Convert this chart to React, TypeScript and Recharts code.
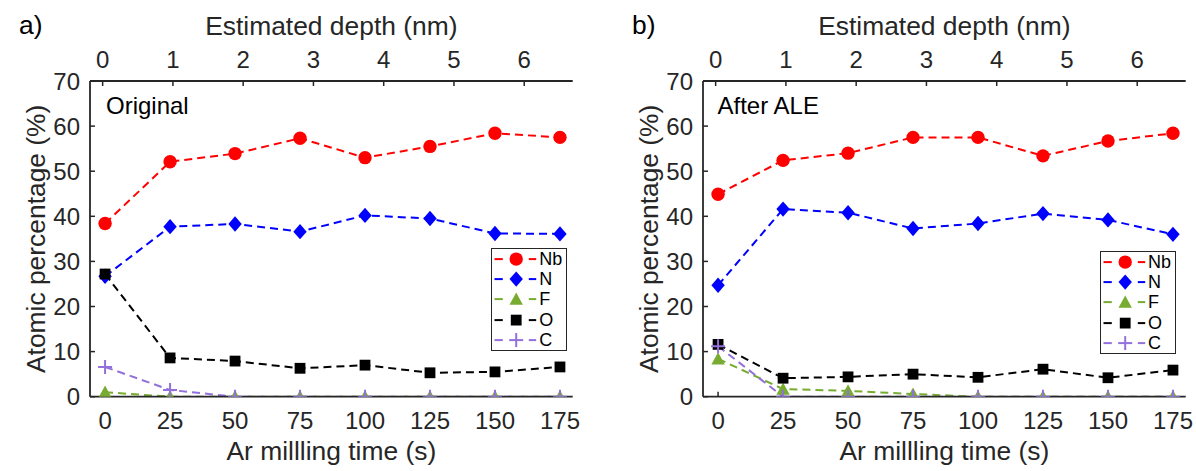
import React from 'react';
import { LineChart, Line, XAxis, YAxis, Legend, Label } from 'recharts';

// ---------- data ----------
const times = [0, 25, 50, 75, 100, 125, 150, 175];
const depthTicks = [0, 1, 2, 3, 4, 5, 6];
const yTicks = [0, 10, 20, 30, 40, 50, 60, 70];
const seriesNames = ['Nb', 'N', 'F', 'O', 'C'];
const secondsPerNm = 27;

const origNb = [38.4, 52.1, 53.9, 57.3, 53.0, 55.5, 58.4, 57.5];
const origN = [26.7, 37.7, 38.3, 36.6, 40.2, 39.5, 36.2, 36.1];
const origF = [1.0, 0, 0, 0, 0, 0, 0, 0];
const origO = [27.2, 8.6, 7.9, 6.3, 7.0, 5.3, 5.5, 6.6];
const origC = [6.6, 1.5, 0, 0, 0, 0, 0, 0];

const aleNb = [44.9, 52.4, 54.0, 57.5, 57.5, 53.4, 56.7, 58.4];
const aleN = [24.7, 41.6, 40.8, 37.3, 38.4, 40.6, 39.2, 36.0];
const aleF = [8.4, 1.7, 1.3, 0.6, 0, 0, 0, 0];
const aleO = [11.6, 4.1, 4.4, 5.0, 4.3, 6.1, 4.2, 5.9];
const aleC = [11.2, 0, 0, 0, 0, 0, 0, 0];

// ---------- styles ----------
const FONT = '"Liberation Sans", Arial, Helvetica, sans-serif';
const AX = '#262626';
const colors: Record<string, string> = { Nb: '#FF0000', N: '#0000FF', F: '#77AC30', O: '#000000', C: '#9370DB' };
const shapes: Record<string, string> = { Nb: 'circle', N: 'diamond', F: 'triangle', O: 'square', C: 'plus' };
const ROW = 20.2;

function Marker({ shape, cx, cy, color }: { shape: string; cx: number; cy: number; color: string }) {
  if (cx == null || cy == null || isNaN(cx) || isNaN(cy)) return null;
  switch (shape) {
    case 'circle':
      return <circle cx={cx} cy={cy} r={6.7} fill={color} />;
    case 'diamond':
      return <polygon points={`${cx},${cy - 7.7} ${cx + 6.7},${cy} ${cx},${cy + 7.7} ${cx - 6.7},${cy}`} fill={color} />;
    case 'triangle':
      return <polygon points={`${cx},${cy - 6.6} ${cx + 6.7},${cy + 5.6} ${cx - 6.7},${cy + 5.6}`} fill={color} />;
    case 'square':
      return <rect x={cx - 5.4} y={cy - 5.4} width={10.8} height={10.8} fill={color} />;
    case 'plus':
      return (
        <g stroke={color} strokeWidth={2}>
          <line x1={cx - 7} y1={cy} x2={cx + 7} y2={cy} />
          <line x1={cx} y1={cy - 7} x2={cx} y2={cy + 7} />
        </g>
      );
    default:
      return null;
  }
}

const renderLegend = (props: any) => {
  const payload = [...(props.payload || [])].sort(
    (a: any, b: any) =>
      seriesNames.indexOf(String(a.dataKey ?? a.value)) - seriesNames.indexOf(String(b.dataKey ?? b.value))
  );
  return (
    <div
      style={{
        border: `1.8px solid ${AX}`,
        background: '#fff',
        width: 76.6,
        boxSizing: 'border-box',
        fontFamily: FONT,
      }}
    >
      {payload.map((entry: any) => {
        const key = String(entry.dataKey ?? entry.value);
        const c = colors[key];
        const mid = ROW / 2;
        return (
          <div key={key} style={{ display: 'flex', alignItems: 'center', height: ROW }}>
            <svg width={46} height={ROW} style={{ display: 'block', flex: 'none' }}>
              <line x1={2.5} y1={mid} x2={10.8} y2={mid} stroke={c} strokeWidth={2} />
              <line x1={36.8} y1={mid} x2={44.2} y2={mid} stroke={c} strokeWidth={2} />
              <Marker shape={shapes[key]} cx={24.2} cy={mid} color={c} />
            </svg>
            <div
              style={{
                marginLeft: 1.5,
                fontSize: 18,
                lineHeight: `${ROW}px`,
                height: ROW,
                color: '#000',
              }}
            >
              {entry.value}
            </div>
          </div>
        );
      })}
    </div>
  );
};

function Panel({
  left,
  letter,
  note,
  noteX,
  values,
  legendLeft,
  legendTop,
}: {
  left: number;
  letter: string;
  note: string;
  noteX: number;
  values: Record<string, number[]>;
  legendLeft: number;
  legendTop: number;
}) {
  const rows = times.map((t, i) => {
    const r: Record<string, number> = { t, d: t / secondsPerNm };
    seriesNames.forEach((s) => {
      r[s] = values[s][i];
    });
    return r;
  });
  const W = 583;
  const H = 471;
  return (
    <div style={{ position: 'absolute', left, top: 0, width: W, height: H }}>
      <LineChart width={W} height={H} data={rows} margin={{ top: 31, right: 10.3, bottom: 24.3, left: 30 }}>
        <XAxis
          xAxisId="top"
          orientation="top"
          type="number"
          dataKey="d"
          domain={[-0.18, 6.69]}
          allowDataOverflow
          ticks={depthTicks}
          interval={0}
          height={50}
          tickSize={-5}
          tickMargin={18}
          axisLine={{ stroke: AX, strokeWidth: 1.8 }}
          tickLine={{ stroke: AX, strokeWidth: 1.5 }}
          tick={{ fill: AX, fontSize: 24, fontFamily: FONT }}
        >
          <Label
            content={(p: any) => {
              const vb = p.viewBox || {};
              return (
                <text x={vb.x + vb.width / 2} y={35} textAnchor="middle" fontSize={26.4} fill={AX} fontFamily={FONT}>
                  Estimated depth (nm)
                </text>
              );
            }}
          />
        </XAxis>
        <XAxis
          type="number"
          dataKey="t"
          domain={[-5.8, 179.9]}
          allowDataOverflow
          ticks={times}
          interval={0}
          height={50}
          tickSize={-5}
          tickMargin={20.6}
          axisLine={{ stroke: AX, strokeWidth: 1.8 }}
          tickLine={{ stroke: AX, strokeWidth: 1.5 }}
          tick={{ fill: AX, fontSize: 24, fontFamily: FONT }}
        >
          <Label
            content={(p: any) => {
              const vb = p.viewBox || {};
              return (
                <text x={vb.x + vb.width / 2} y={460} textAnchor="middle" fontSize={26.4} fill={AX} fontFamily={FONT}>
                  Ar millling time (s)
                </text>
              );
            }}
          />
        </XAxis>
        <YAxis
          type="number"
          domain={[0, 70]}
          allowDataOverflow
          ticks={yTicks}
          interval={0}
          width={60}
          tickSize={-5}
          tickMargin={15}
          axisLine={{ stroke: AX, strokeWidth: 1.8 }}
          tickLine={{ stroke: AX, strokeWidth: 1.5 }}
          tick={{ fill: AX, fontSize: 24, fontFamily: FONT }}
        >
          <Label
            content={(p: any) => {
              const vb = p.viewBox || {};
              const cy = vb.y + vb.height / 2;
              return (
                <text
                  transform={`translate(44.5, ${cy}) rotate(-90)`}
                  x={0}
                  y={0}
                  textAnchor="middle"
                  fontSize={26.4}
                  fill={AX}
                  fontFamily={FONT}
                >
                  Atomic percentage (%)
                </text>
              );
            }}
          />
        </YAxis>
        <YAxis
          yAxisId="right"
          orientation="right"
          type="number"
          domain={[0, 70]}
          allowDataOverflow
          width={0}
          tick={false}
          tickLine={false}
          axisLine={{ stroke: AX, strokeWidth: 1.8 }}
        />
        <Legend
          content={renderLegend}
          layout="vertical"
          align="center"
          verticalAlign="middle"
          wrapperStyle={{ position: 'absolute', left: legendLeft, top: legendTop, width: 77, height: 105 }}
        />
        {seriesNames.map((s) => (
          <Line
            key={s}
            type="linear"
            dataKey={s}
            name={s}
            stroke={colors[s]}
            strokeWidth={2}
            strokeDasharray="8 5"
            isAnimationActive={false}
            activeDot={false}
            dot={(p: any) => <Marker key={`${s}-${p.index}`} shape={shapes[s]} cx={p.cx} cy={p.cy} color={colors[s]} />}
          />
        ))}
      </LineChart>
      <svg
        width={W}
        height={H}
        style={{ position: 'absolute', left: 0, top: 0, pointerEvents: 'none' }}
      >
        <text x={19} y={34} fontSize={26.4} fill="#000" fontFamily={FONT}>
          {letter}
        </text>
        <text x={noteX} y={114} fontSize={24} fill="#000" fontFamily={FONT}>
          {note}
        </text>
      </svg>
    </div>
  );
}

export default function App() {
  return (
    <div style={{ position: 'absolute', left: 0, top: 0, width: 1196, height: 471, background: '#fff', overflow: 'hidden' }}>
      <Panel
        left={0}
        letter="a)"
        note="Original"
        noteX={106}
        values={{ Nb: origNb, N: origN, F: origF, O: origO, C: origC }}
        legendLeft={490.7}
        legendTop={248}
      />
      <Panel
        left={613}
        letter="b)"
        note="After ALE"
        noteX={104.5}
        values={{ Nb: aleNb, N: aleN, F: aleF, O: aleO, C: aleC }}
        legendLeft={486.5}
        legendTop={251}
      />
    </div>
  );
}
